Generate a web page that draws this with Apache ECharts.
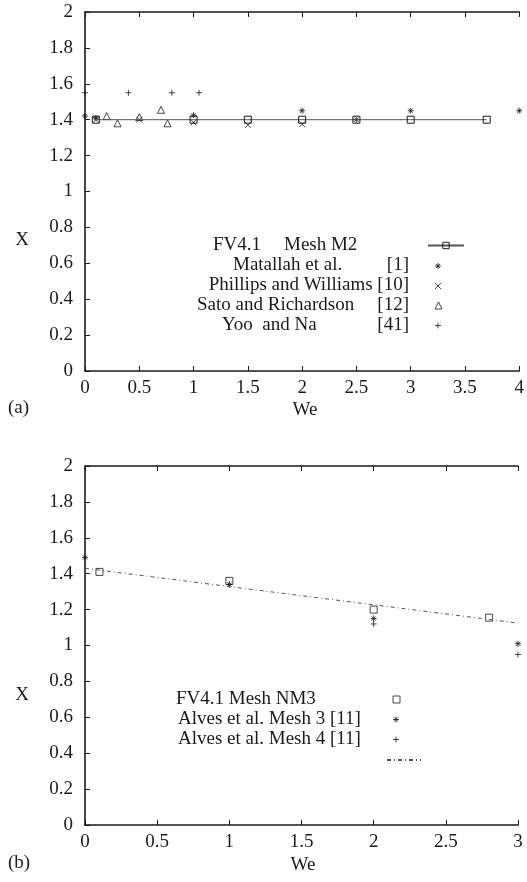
<!DOCTYPE html>
<html>
<head>
<meta charset="utf-8">
<script src="https://cdn.jsdelivr.net/npm/echarts@6/dist/echarts.min.js"></script>
<style>html,body{margin:0;padding:0;background:#fff;}#c{width:527px;height:882px;}</style>
</head>
<body>
<div id="c"></div>
<script>
// ---- Data (a) ----
const weM2 = [0.1, 1, 1.5, 2, 2.5, 3, 3.7];
const xM2 = [1.40, 1.40, 1.40, 1.40, 1.40, 1.40, 1.40];
const weMatallah = [0, 0.1, 1, 2, 2.5, 3, 4];
const xMatallah = [1.42, 1.41, 1.425, 1.45, 1.40, 1.45, 1.45];
const wePhillips = [0.1, 0.5, 1, 1.5, 2];
const xPhillips = [1.40, 1.40, 1.385, 1.37, 1.375];
const weSato = [0.2, 0.3, 0.5, 0.7, 0.76];
const xSato = [1.42, 1.38, 1.415, 1.455, 1.38];
const weYoo = [0, 0.4, 0.8, 1.05];
const xYoo = [1.55, 1.55, 1.55, 1.55];
// ---- Data (b) ----
const weNM3 = [0.1, 1, 2, 2.8];
const xNM3 = [1.41, 1.36, 1.20, 1.155];
const weAlves3 = [0, 1, 2, 3];
const xAlves3 = [1.49, 1.34, 1.15, 1.01];
const weAlves4 = [1, 2, 3];
const xAlves4 = [1.34, 1.12, 0.95];
const weFit = [0, 3];
const xFit = [1.43, 1.125];

const pair = (a, b) => a.map((v, i) => [v, b[i]]);

const FONT = "'Liberation Serif', 'Times New Roman', serif";
const INK = '#1a1a1a';
const SYM_PLUS = 'path://M0,5L10,5M5,0L5,10';
const SYM_CROSS = 'path://M0,0L10,10M10,0L0,10';
const SYM_STAR = 'path://M0,5L10,5M5,0L5,10M1.5,1.5L8.5,8.5M8.5,1.5L1.5,8.5';
const hollow = {color: 'transparent', borderColor: INK, borderWidth: 1};

function xAx(grid, max, top) {
  return {
    type: 'value', gridIndex: grid, min: 0, max: max, interval: 0.5,
    position: top ? 'top' : 'bottom',
    axisLine: {show: true, onZero: false, lineStyle: {color: INK, width: 1.6}},
    axisTick: {show: true, inside: true, length: 5, lineStyle: {color: INK, width: 1}},
    axisLabel: {show: !top, fontFamily: FONT, fontSize: 19, color: INK, margin: 8},
    splitLine: {show: false}
  };
}
function yAx(grid) {
  return {
    type: 'value', gridIndex: grid, min: 0, max: 2, interval: 0.2,
    axisLine: {show: true, onZero: false, lineStyle: {color: INK, width: 1.6}},
    axisTick: {show: true, inside: true, length: 5, lineStyle: {color: INK, width: 1}},
    axisLabel: {fontFamily: FONT, fontSize: 19, color: INK, margin: 12},
    splitLine: {show: false}
  };
}
function legendAt(name, x, y, w, h, icon, itemStyle) {
  const l = {
    data: [name], left: x, top: y - h / 2, itemWidth: w, itemHeight: h,
    padding: 0, itemGap: 0, selectedMode: false,
    formatter: function () { return ''; },
    textStyle: {fontSize: 1},
    itemStyle: itemStyle || hollow
  };
  if (icon) l.icon = icon;
  return l;
}
function txt(t, x, y, align) {
  return {type: 'text', x: x, y: y, silent: true,
    style: {text: t, fontFamily: FONT, fontSize: 19, fill: INK, align: align || 'left', verticalAlign: 'middle'}};
}

const chart = echarts.init(document.getElementById('c'), null, {renderer: 'canvas'});
chart.setOption({
  animation: false,
  backgroundColor: '#fff',
  textStyle: {fontFamily: FONT, fontSize: 19, color: INK},
  grid: [
    {left: 85, top: 12, width: 436, height: 359},
    {left: 85, top: 466, width: 433, height: 359}
  ],
  xAxis: [xAx(0, 4, false), xAx(0, 4, true), xAx(1, 3, false), xAx(1, 3, true)],
  yAxis: [yAx(0), yAx(1)],
  legend: [
    legendAt('FV4.1 Mesh M2', 427, 245.5, 36, 8),
    legendAt('Matallah et al. [1]', 434.5, 265.5, 6, 6, SYM_STAR),
    legendAt('Phillips and Williams [10]', 434.5, 285.5, 6, 6, SYM_CROSS),
    legendAt('Sato and Richardson [12]', 434.5, 305, 7, 7, 'triangle'),
    legendAt('Yoo and Na [41]', 434.5, 325, 6, 6, SYM_PLUS),
    legendAt('FV4.1 Mesh NM3', 392.5, 699, 7, 7, 'rect'),
    legendAt('Alves et al. Mesh 3 [11]', 392.5, 719, 6, 6, SYM_STAR),
    legendAt('Alves et al. Mesh 4 [11]', 392.5, 739, 6, 6, SYM_PLUS),
    legendAt('fit', 386, 760, 34, 8, null, {color: 'transparent', borderColor: 'transparent', borderWidth: 0})
  ],
  series: [
    {name: 'FV4.1 Mesh M2', type: 'line', xAxisIndex: 0, yAxisIndex: 0, data: pair(weM2, xM2),
      symbol: 'rect', symbolSize: 7, showSymbol: true,
      lineStyle: {color: '#555', width: 1}, itemStyle: hollow, z: 3},
    {name: 'Matallah et al. [1]', type: 'scatter', xAxisIndex: 0, yAxisIndex: 0, data: pair(weMatallah, xMatallah),
      symbol: SYM_STAR, symbolSize: 6, itemStyle: hollow},
    {name: 'Phillips and Williams [10]', type: 'scatter', xAxisIndex: 0, yAxisIndex: 0, data: pair(wePhillips, xPhillips),
      symbol: SYM_CROSS, symbolSize: 6, itemStyle: hollow},
    {name: 'Sato and Richardson [12]', type: 'scatter', xAxisIndex: 0, yAxisIndex: 0, data: pair(weSato, xSato),
      symbol: 'triangle', symbolSize: 7, itemStyle: hollow},
    {name: 'Yoo and Na [41]', type: 'scatter', xAxisIndex: 0, yAxisIndex: 0, data: pair(weYoo, xYoo),
      symbol: SYM_PLUS, symbolSize: 6, itemStyle: hollow},
    {name: 'FV4.1 Mesh NM3', type: 'scatter', xAxisIndex: 2, yAxisIndex: 1, data: pair(weNM3, xNM3),
      symbol: 'rect', symbolSize: 7, itemStyle: hollow},
    {name: 'Alves et al. Mesh 3 [11]', type: 'scatter', xAxisIndex: 2, yAxisIndex: 1, data: pair(weAlves3, xAlves3),
      symbol: SYM_STAR, symbolSize: 6, itemStyle: hollow},
    {name: 'Alves et al. Mesh 4 [11]', type: 'scatter', xAxisIndex: 2, yAxisIndex: 1, data: pair(weAlves4, xAlves4),
      symbol: SYM_PLUS, symbolSize: 6, itemStyle: hollow},
    {name: 'fit', type: 'line', xAxisIndex: 2, yAxisIndex: 1, data: pair(weFit, xFit),
      symbol: 'none', showSymbol: false,
      lineStyle: {color: '#555', width: 1, type: [4, 3, 1, 3]}, itemStyle: {color: '#555'}}
  ],
  graphic: [
    txt('X', 22, 240, 'center'),
    txt('(a)', 8, 408),
    txt('We', 305, 410, 'center'),
    txt('FV4.1', 213, 245),
    txt('Mesh M2', 284, 245),
    txt('Matallah et al.', 233, 265),
    txt('[1]', 409, 265, 'right'),
    txt('Phillips and Williams [10]', 409, 285, 'right'),
    txt('Sato and Richardson', 197, 305),
    txt('[12]', 409, 305, 'right'),
    txt('Yoo  and Na', 222, 325),
    txt('[41]', 409, 325, 'right'),
    txt('X', 22, 695, 'center'),
    txt('(b)', 8, 863),
    txt('We', 303, 865, 'center'),
    txt('FV4.1 Mesh NM3', 176, 699),
    txt('Alves et al. Mesh 3 [11]', 178, 719),
    txt('Alves et al. Mesh 4 [11]', 178, 739)
  ]
});
</script>
</body>
</html>
